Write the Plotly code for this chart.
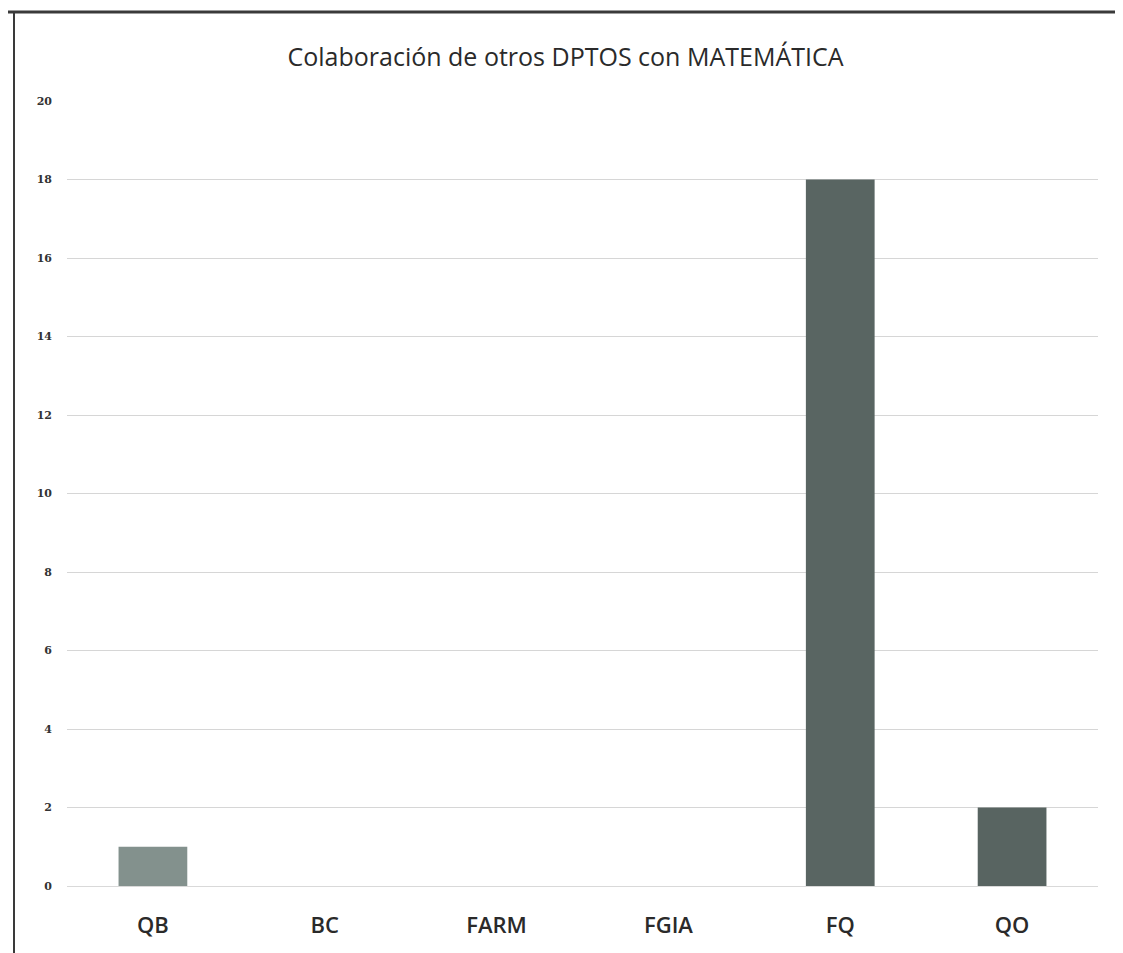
import plotly.graph_objects as go

categories = ["QB", "BC", "FARM", "FGIA", "FQ", "QO"]
values = [1, 0, 0, 0, 18, 2]
bar_colors = ["#83918d", "#5d6966", "#5d6966", "#5d6966", "#596562", "#586461"]
y_ticks = [0, 2, 4, 6, 8, 10, 12, 14, 16, 18, 20]

# page body adds an 8px offset; compensate so the plot lands where the reference has it
OFF = 8
W, H = 1123 - OFF, 953 - OFF
L, R, T, B = 67 - OFF, 25, 101 - OFF, 67
PW, PH = W - L - R, H - T - B

fig = go.Figure()
fig.add_trace(go.Bar(x=categories, y=values, marker=dict(color=bar_colors, line=dict(width=0)),
                     width=0.4))

fig.update_layout(
    width=W, height=H,
    paper_bgcolor="white", plot_bgcolor="white",
    margin=dict(l=L, r=R, t=T, b=B, autoexpand=False),
    showlegend=False,
    title=dict(text="Colaboración de otros DPTOS con MATEMÁTICA", x=0.5, xanchor="center",
               y=1 - (57 - OFF) / H, yanchor="middle",
               font=dict(family="Open Sans", size=25, color="#2a2a2a", weight=500)),
    xaxis=dict(showgrid=False, showline=True, linecolor="#d9d9d9", linewidth=1,
               tickfont=dict(family="Open Sans", size=22, color="#2a2a2a", weight=600), ticks="",
               ticklabelstandoff=20, range=[-0.5, 5.5]),
    yaxis=dict(range=[0, 20], tickvals=y_ticks, showgrid=True, gridcolor="#d6d6d6", gridwidth=1,
               zeroline=False, showline=False, ticks="",
               tickfont=dict(family="DejaVu Serif", size=11, color="#333", weight=700),
               ticklabelstandoff=14),
)
# frame of the scanned page
top_y = 1 + (T - (12 - OFF)) / PH
left_x = -(L - (14 - OFF)) / PW
fig.add_shape(type="line", xref="paper", yref="paper", x0=left_x - 0.006, x1=1.03, y0=top_y, y1=top_y,
              line=dict(color="#3a3a3a", width=3))
fig.add_shape(type="line", xref="paper", yref="paper", x0=left_x, x1=left_x, y0=top_y, y1=-B / PH,
              line=dict(color="#3a3a3a", width=2))
fig.write_html("out.html")
